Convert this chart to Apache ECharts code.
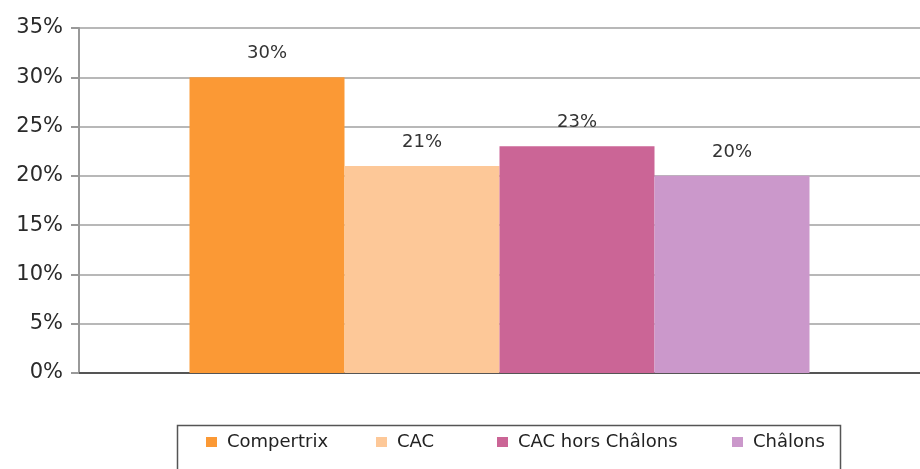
<!DOCTYPE html>
<html><head><meta charset="utf-8">
<script src="https://cdn.jsdelivr.net/npm/echarts@6/dist/echarts.min.js"></script>
<style>html,body{margin:0;padding:0;background:#fff}#c{width:920px;height:469px}</style>
</head><body><div id="c"></div>
<script>
const seriesNames = ['Compertrix', 'CAC', 'CAC hors Châlons', 'Châlons'];
const seriesValues = [30, 21, 23, 20];
const seriesColors = ['#FB9935', '#FDC898', '#CB6596', '#CB98CB'];
const yTicks = [0, 5, 10, 15, 20, 25, 30, 35];

const chart = echarts.init(document.getElementById('c'));
const font = 'DejaVu Sans, Verdana, sans-serif';
const legendX = [206, 376, 497, 732];
chart.setOption({
  animation: false,
  backgroundColor: '#fff',
  grid: { left: 79, right: 0, top: 28, bottom: 96 },
  xAxis: {
    type: 'category', data: [''],
    axisLine: { lineStyle: { color: '#555', width: 2 } },
    axisTick: { show: false }, axisLabel: { show: false }
  },
  yAxis: {
    type: 'value', min: yTicks[0], max: yTicks[yTicks.length - 1], interval: 5,
    axisLine: { show: true, lineStyle: { color: '#999', width: 2 } },
    axisTick: { show: true, length: 8, lineStyle: { color: '#999', width: 2 } },
    axisLabel: { formatter: '{value}%', fontFamily: font, fontSize: 21, color: '#2a2a2a', margin: 16 },
    splitLine: { lineStyle: { color: '#b8b8b8', width: 2 } }
  },
  legend: seriesNames.map((n, i) => ({
    data: [n], left: legendX[i], top: 433, itemWidth: 11, itemHeight: 10, itemGap: 0,
    icon: 'rect', padding: 0,
    textStyle: { fontFamily: font, fontSize: 18, color: '#222', padding: [0, 0, 0, 5] }
  })),
  graphic: [{
    type: 'rect', left: 175, top: 423, shape: { width: 663, height: 60 },
    style: { fill: 'none', stroke: '#555', lineWidth: 1.5 }, silent: true, z: -1
  }],
  series: seriesNames.map((n, i) => ({
    name: n, type: 'bar', data: [seriesValues[i]], barWidth: 155, barGap: '0%',
    itemStyle: { color: seriesColors[i] },
    label: { show: true, position: 'top', distance: 15, formatter: '{c}%',
      fontFamily: font, fontSize: 18, color: '#333' }
  }))
});
</script></body></html>
